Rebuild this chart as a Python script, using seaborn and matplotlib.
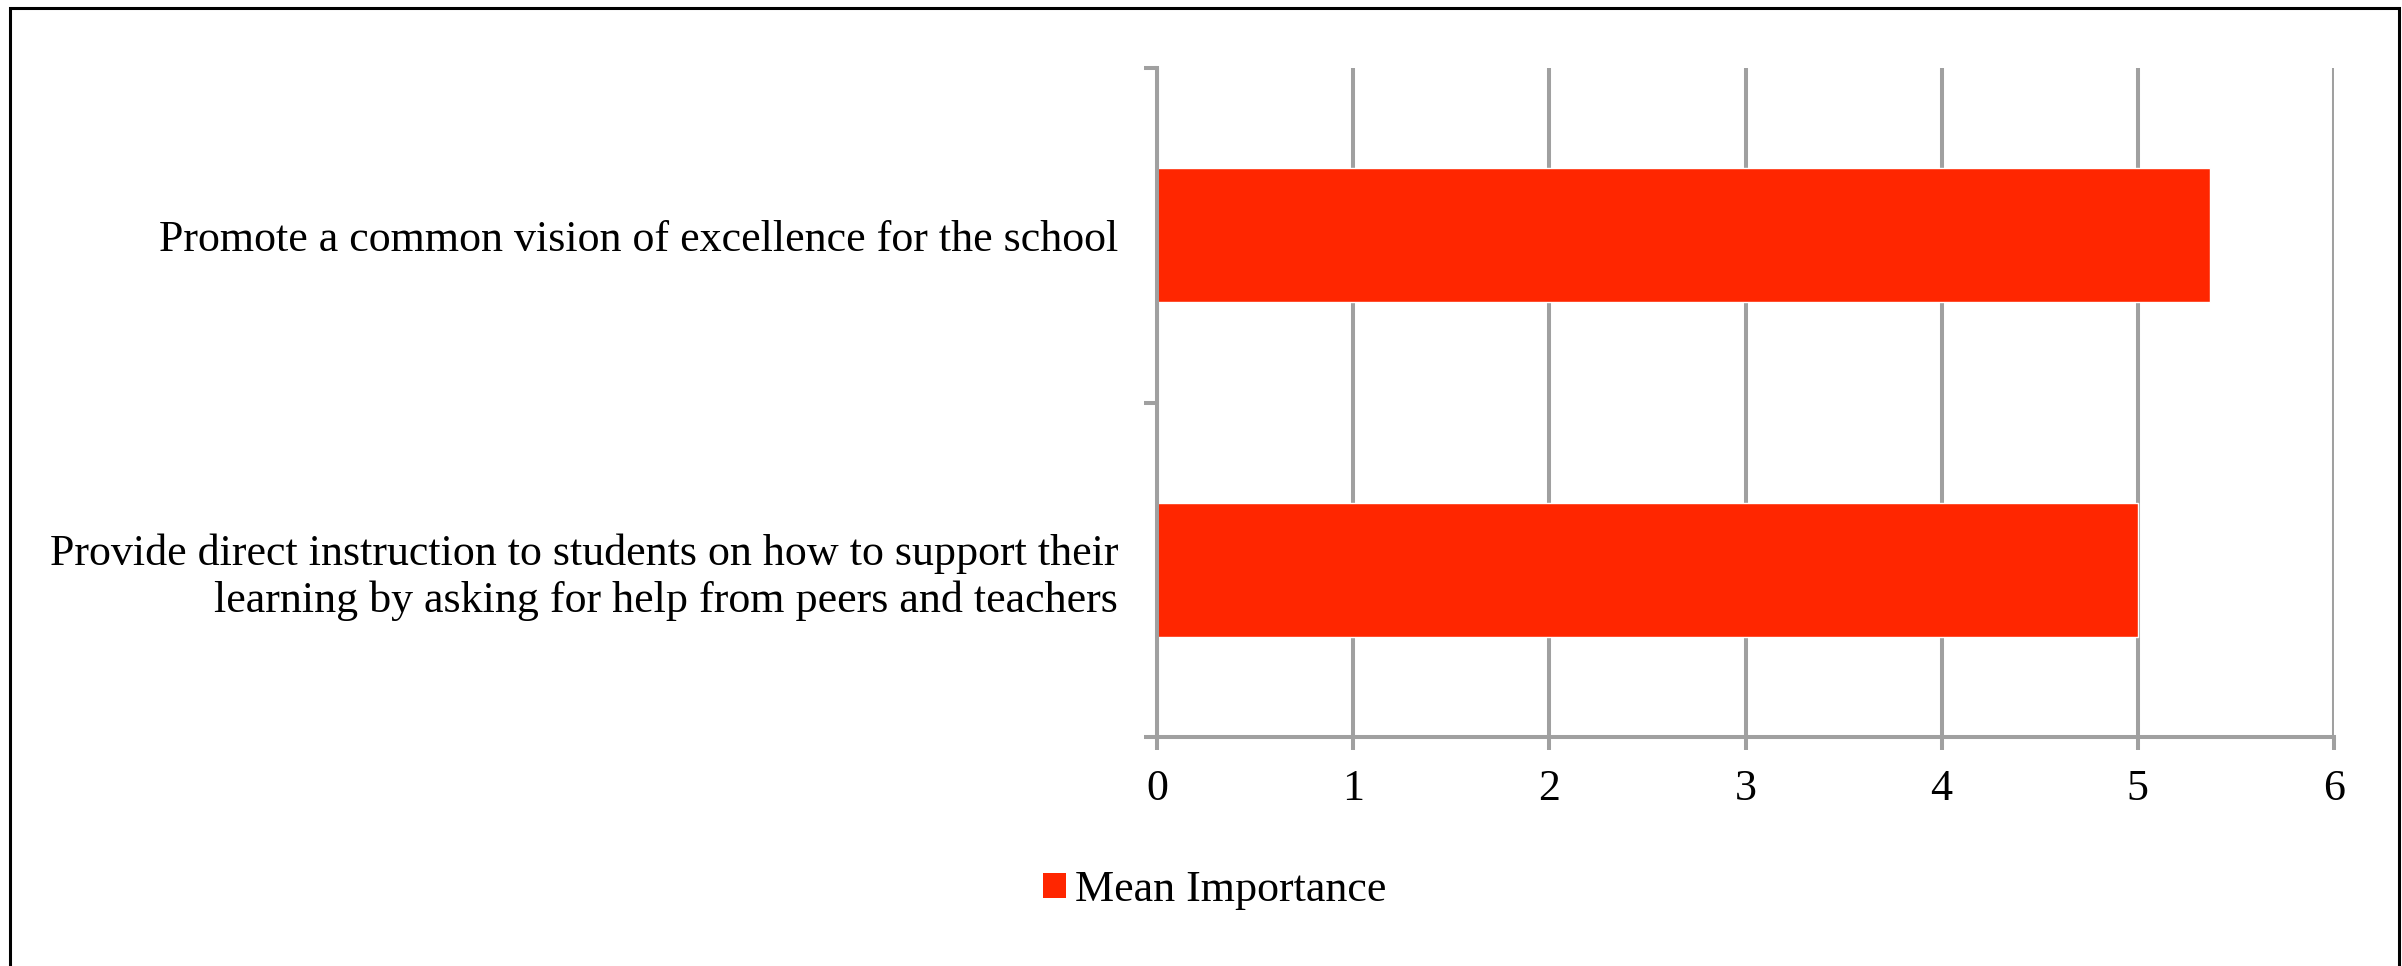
import matplotlib
matplotlib.use("Agg")
import matplotlib.pyplot as plt
from matplotlib.patches import Rectangle
import seaborn as sns
import pandas as pd

# Données
categories = [
    "Promote a common vision of excellence for the school",
    "Provide direct instruction to students on how to support their\nlearning by asking for help from peers and teachers",
]
mean_importance = [5.37, 5.0]
series_name = "Mean Importance"
x_ticks = [0, 1, 2, 3, 4, 5, 6]

BAR_COLOR = "#FF2600"
GRAY = "#A0A0A0"
W, H = 2402, 966

sns.set_theme(style="white")
plt.rcParams["font.family"] = ["Liberation Serif", "DejaVu Serif"]
plt.rcParams["text.color"] = "black"

df = pd.DataFrame({"label": categories, "value": mean_importance,
                   "series": [series_name] * len(categories)})

fig = plt.figure(figsize=(W / 100, H / 100), dpi=100)
ax = fig.add_axes([1157 / W, 1 - 737 / H, (2334 - 1157) / W, (737 - 68) / H])

sns.barplot(data=df, x="value", y="label", hue="series", palette=[BAR_COLOR],
            width=0.4, saturation=1, ax=ax, legend=False)

ax.set_xlim(0, 6)
ax.set_ylim(1.5, -0.5)
ax.set_xticks(x_ticks)
ax.set_xlabel("")
ax.set_ylabel("")

# Grille verticale grise
ax.xaxis.grid(True, color=GRAY, linewidth=2.9)
ax.yaxis.grid(False)
ax.set_axisbelow(True)

for side in ["top", "right"]:
    ax.spines[side].set_visible(False)
for side in ["left", "bottom"]:
    ax.spines[side].set_color(GRAY)
    ax.spines[side].set_linewidth(2.9)

# Graduations de l'axe des catégories aux séparations
ax.set_yticks([-0.5, 0.5, 1.5], minor=True)
ax.tick_params(axis="y", which="minor", left=True, length=9.4, width=2.9,
               color=GRAY, direction="out")
ax.tick_params(axis="y", which="major", left=True, length=0, pad=28,
               labelsize=31.7, labelcolor="black")
ax.tick_params(axis="x", which="major", bottom=True, length=9.4, width=2.9,
               color=GRAY, direction="out", pad=14, labelsize=31.7,
               labelcolor="black")

# Légende en bas
handle = Rectangle((0, 0), 1, 1, facecolor=BAR_COLOR, edgecolor="none")
fig.legend([handle], [series_name], loc="center", bbox_to_anchor=(1215 / W, 1 - 890 / H),
           frameon=False, fontsize=31.7, handlelength=0.52, handleheight=0.52,
           handletextpad=0.2, borderpad=0, labelcolor="black")

# Cadre noir autour de la figure
fig.add_artist(Rectangle((10 / W, -0.05), (2399 - 10) / W, 1.05 - 8 / H,
                         transform=fig.transFigure, fill=False,
                         edgecolor="black", linewidth=2.2))

fig.savefig("out.png", dpi=100)
plt.close(fig)
